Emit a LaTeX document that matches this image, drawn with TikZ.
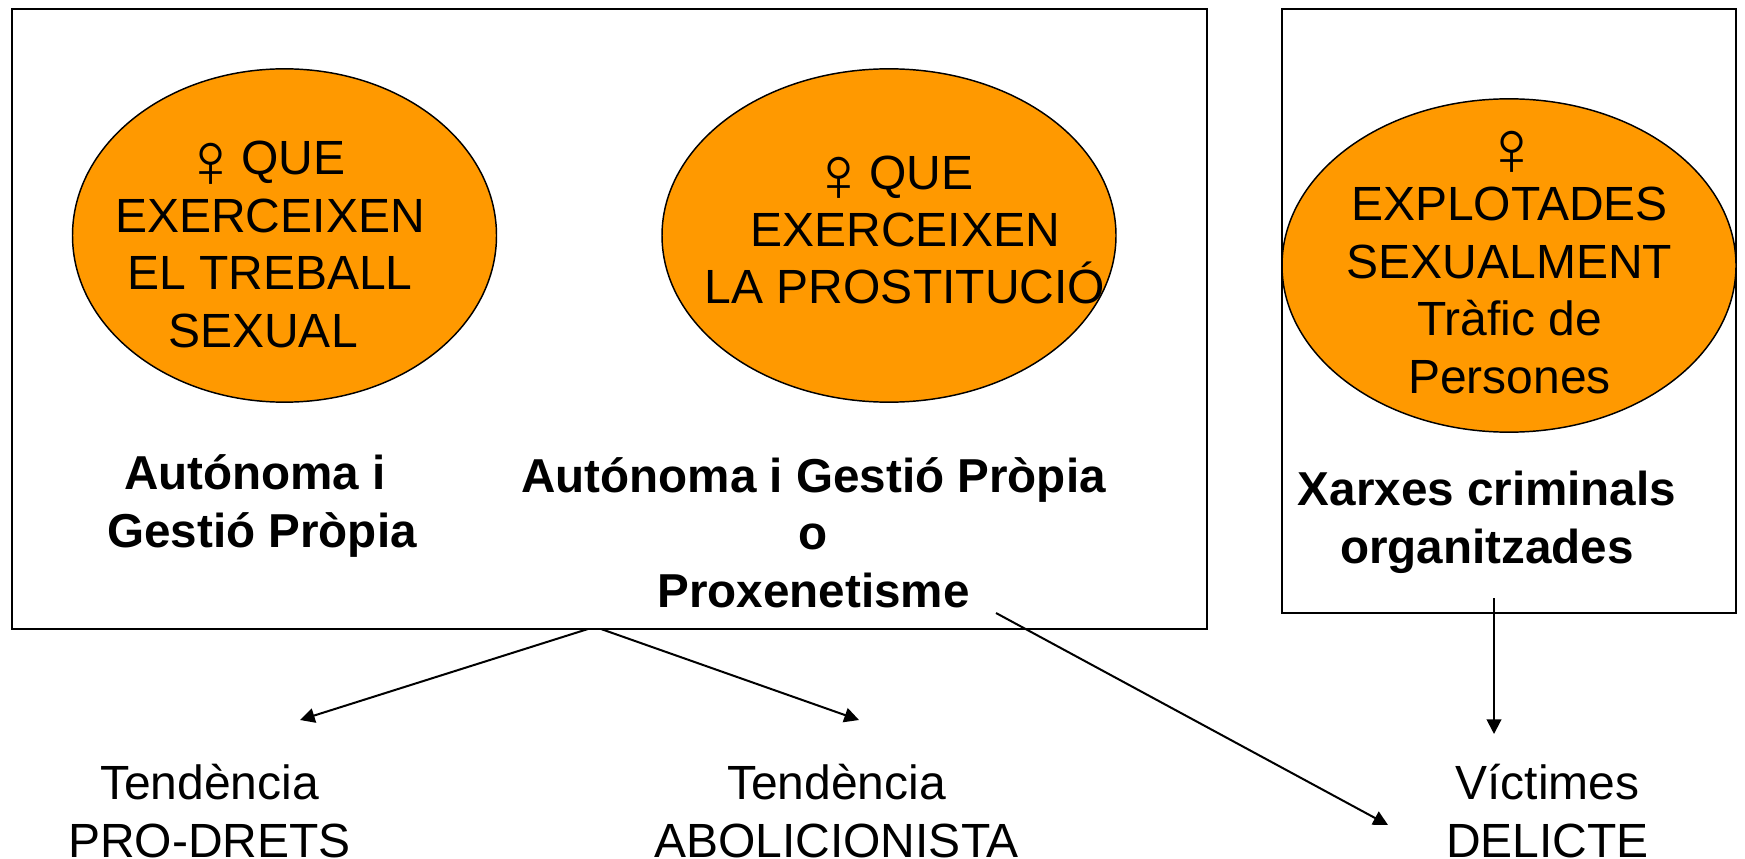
\documentclass[tikz,border=0pt]{standalone}
\usepackage{fontspec}
\setmainfont{Liberation Sans}
\usetikzlibrary{shapes.geometric,arrows.meta}
\definecolor{blobfill}{HTML}{FF9900}
\newcommand{\venus}{\makebox[21pt][c]{\hspace*{3pt}\raisebox{-9.4pt}[0pt][0pt]{\fontsize{59}{59}\selectfont ♀}}}
\tikzset{
  x=0.75pt,y=-0.75pt,
  framebox/.style={draw=black,line width=1.5pt,fill=white,rectangle,inner sep=0pt},
  blob/.style={draw=black,line width=1.1pt,fill=blobfill,ellipse,inner sep=0pt},
  txt/.style={align=center,anchor=base,inner sep=0pt,font=\fontsize{36}{43.1}\selectfont},
  boldtxt/.style={txt,font=\fontsize{35.7}{43}\selectfont\bfseries},
  link/.style={draw=black,line width=1.5pt,-{Triangle[length=11pt,width=11pt]}}
}
\begin{document}
\begin{tikzpicture}
\useasboundingbox (0,0) rectangle (1745,859);
\node[framebox,minimum width=896.5pt,minimum height=465pt] (box1) at (609.2,319) {};
\node[framebox,minimum width=340.5pt,minimum height=453pt] (box2) at (1509,311) {};
\node[blob,minimum width=318pt,minimum height=250pt] (e1) at (284.5,235.5) {};
\node[blob,minimum width=340.5pt,minimum height=250pt] (e2) at (889,235.5) {};
\node[blob,minimum width=340.5pt,minimum height=250pt] (e3) at (1509,265.5) {};
\node[txt] (t1) at (270,347) {\venus\hspace*{4.2pt} QUE\\EXERCEIXEN\\EL TREBALL\\SEXUAL\hspace*{10.5pt}};
\node[txt] (t2) at (905,304) {\venus\hspace*{4.2pt} QUE\hspace*{10.5pt}\\EXERCEIXEN\\LA PROSTITUCIÓ};
\node[txt] (t3) at (1509.5,393) {\venus\\EXPLOTADES\\SEXUALMENT\\Tràfic de\\Persones};
\node[boldtxt] (b1) at (262,547) {Autónoma i\hspace*{10.5pt}\\Gestió Pròpia};
\node[boldtxt] (b2) at (813.5,607) {Autónoma i Gestió Pròpia\\o\\Proxenetisme};
\node[boldtxt] (b3) at (1487,563) {Xarxes criminals\\organitzades};
\node[txt] (c1) at (209.5,857) {Tendència\\PRO-DRETS};
\node[txt] (c2) at (836.5,857) {Tendència\\ABOLICIONISTA};
\node[txt] (c3) at (1547.5,857) {Víctimes\\DELICTE};
\coordinate (a1s) at (588,629);
\coordinate (a1e) at (300,720);
\coordinate (a2s) at (601,629);
\coordinate (a2e) at (859,720);
\coordinate (a3s) at (996,613);
\coordinate (a3e) at (1388,825);
\coordinate (a4s) at (1494,598);
\coordinate (a4e) at (1494,734);
\draw[link] (a1s) -- (a1e);
\draw[link] (a2s) -- (a2e);
\draw[link] (a3s) -- (a3e);
\draw[link] (a4s) -- (a4e);
\end{tikzpicture}
\end{document}
